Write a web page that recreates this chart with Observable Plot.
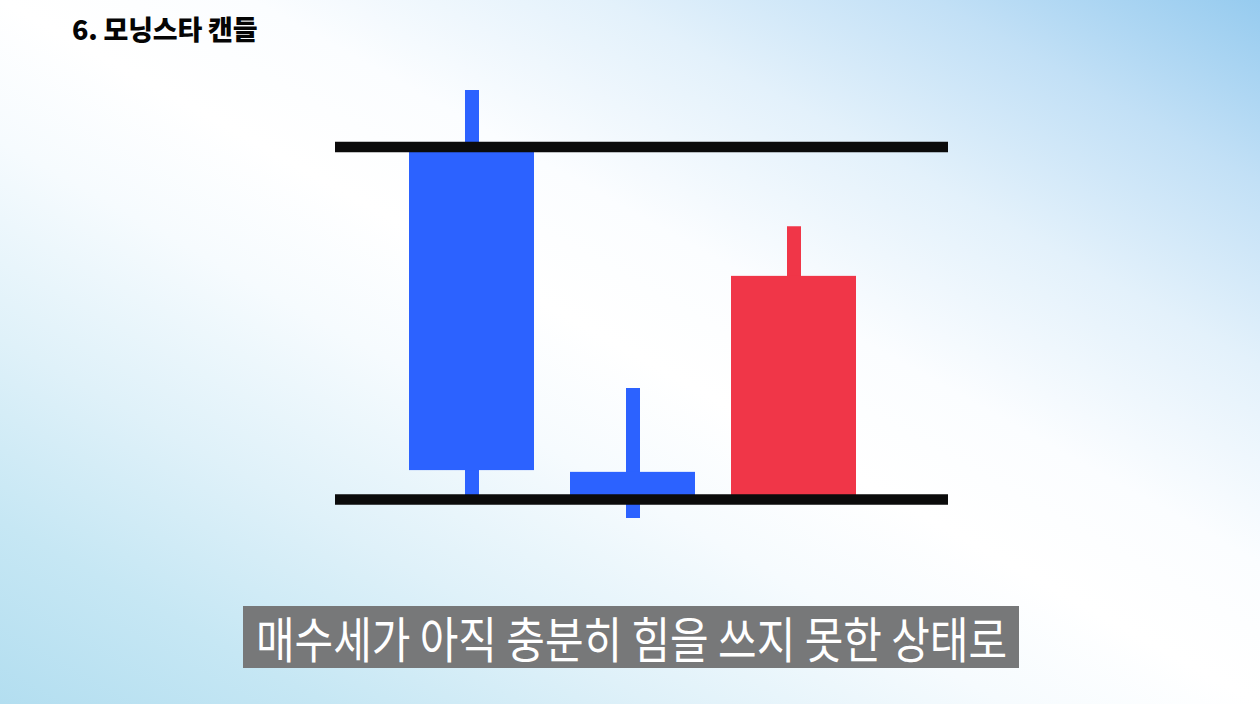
<!DOCTYPE html>
<html>
<head>
<meta charset="utf-8">
<script src="https://cdn.jsdelivr.net/npm/d3@7"></script>
<script src="https://cdn.jsdelivr.net/npm/@observablehq/plot@0.6"></script>
<style>
  html, body { margin: 0; padding: 0; }
  #stage {
    position: relative; width: 1260px; height: 704px; overflow: hidden;
    background: linear-gradient(to bottom left,
      #96cbef 0%, #c2e0f6 13%, #e3f1fb 26%, #fbfdff 40%, #ffffff 50%,
      #f6fbfe 60%, #dff1f9 74%, #c6e7f4 87%, #b3def0 100%);
    font-family: "Noto Sans CJK KR", "Noto Sans", sans-serif;
  }
  #chart { position: absolute; left: 0; top: 0; }
  #title {
    position: absolute; left: 72px; top: 12px; margin: 0;
    font-size: 27px; font-weight: 900; color: #050505; line-height: 34px;
    letter-spacing: -0.2px;
  }
  #caption {
    position: absolute; left: 243px; top: 606px; width: 776px; height: 62px;
    background: #777879;
  }
  #captext {
    position: absolute; left: 13px; top: 0px; line-height: 62px;
    font-size: 49px; font-weight: 400; color: #ffffff; white-space: nowrap;
    transform-origin: 0 50%; display: inline-block;
  }
</style>
</head>
<body>
<div id="stage">
  <div id="chart"></div>
  <h1 id="title">6. 모닝스타 캔들</h1>
  <div id="caption"><span id="captext">매수세가 아직 충분히 힘을 쓰지 못한 상태로</span></div>
</div>
<script>
// Data
const days = ["1일차", "2일차", "3일차"];
const opens = [200, 107.7, 101];
const closes = [108.2, 100.5, 163.3];
const highs = [216.0, 131.5, 177.4];
const lows = [101, 94.6, 101];
const levels = [200, 100]; // resistance, support

const candles = days.map((d, i) => ({
  day: d, open: opens[i], close: closes[i], high: highs[i], low: lows[i]
}));

const up = "#f03648";
const down = "#2c62ff";

const plot = Plot.plot({
  width: 1260,
  height: 704,
  marginTop: 0,
  marginBottom: 0,
  marginLeft: 335,
  marginRight: 312,
  style: { background: "transparent", overflow: "visible" },
  x: { type: "band", domain: days, range: [373, 892], padding: 0.2236, round: false, axis: null },
  y: { domain: [100, 200], range: [499, 146.5], axis: null },
  marks: [
    Plot.ruleX(candles, {
      x: "day", y1: "low", y2: "high",
      stroke: d => d.close > d.open ? up : down, strokeWidth: 14
    }),
    Plot.barY(candles, {
      x: "day", y1: "open", y2: "close",
      fill: d => d.close > d.open ? up : down
    }),
    Plot.ruleY(levels, { stroke: "#0b0b0b", strokeWidth: 10.5 })
  ]
});
document.getElementById("chart").appendChild(plot);

// fit condensed caption text to its measured span
const cap = document.getElementById("captext");
const w = cap.getBoundingClientRect().width;
cap.style.transform = `scaleX(${751 / w})`;
</script>
</body>
</html>
